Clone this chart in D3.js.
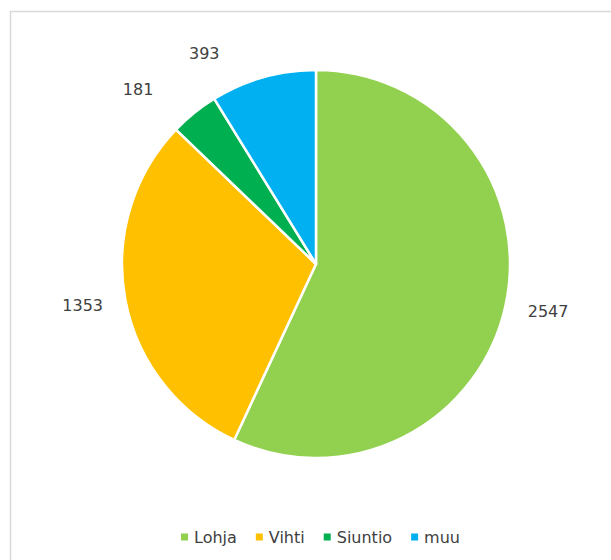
<!DOCTYPE html>
<html><head><meta charset="utf-8">
<script src="https://cdn.jsdelivr.net/npm/d3@7"></script>
<style>html,body{margin:0;padding:0;background:#fff;}svg{display:block;}</style>
</head><body>
<svg id="c" width="611" height="560"></svg>
<script>
const categories = ["Lohja", "Vihti", "Siuntio", "muu"];
const values = [2547, 1353, 181, 393];
const colors = ["#92D050", "#FFC000", "#00B050", "#00B0F0"];

const svg = d3.select("#c");
const font = "DejaVu Sans";
const textColor = "#404040";

svg.append("rect").attr("x", 10.5).attr("y", 11.5).attr("width", 700).attr("height", 700)
  .attr("fill", "#fff").attr("stroke", "#d9d9d9").attr("stroke-width", 1.5);

const cx = 316, cy = 264, r = 194;
const data = categories.map((c, i) => ({ name: c, value: values[i], color: colors[i] }));
const pie = d3.pie().value(d => d.value).sort(null);
const arcs = pie(data);
const arc = d3.arc().innerRadius(0).outerRadius(r);

const g = svg.append("g").attr("transform", `translate(${cx},${cy})`);
g.selectAll("path").data(arcs).enter().append("path")
  .attr("d", arc).attr("fill", d => d.data.color)
  .attr("stroke", "#fff").attr("stroke-width", 2.5).attr("stroke-linejoin", "round");

// label placement tweaks (degrees rotation, extra radius) to mimic the original layout
const labelAngleShift = [-0.8, 0.6, -6.7, -12.2];
const labelExtra = [43, 43, 55, 44];
g.selectAll("text.lbl").data(arcs).enter().append("text")
  .attr("class", "lbl")
  .each(function (d, i) {
    const a = (d.startAngle + d.endAngle) / 2 + labelAngleShift[i] * Math.PI / 180;
    const R = r + labelExtra[i];
    d3.select(this).attr("x", R * Math.sin(a)).attr("y", -R * Math.cos(a));
  })
  .attr("text-anchor", "middle").attr("dominant-baseline", "central")
  .attr("font-family", font).attr("font-size", 16).attr("fill", textColor)
  .text(d => d3.format("d")(d.data.value));

// legend
const lg = svg.append("g");
let x = 0;
data.forEach(d => {
  const it = lg.append("g");
  it.append("rect").attr("x", 0).attr("y", -3.5).attr("width", 7).attr("height", 7).attr("fill", d.color);
  const t = it.append("text").attr("x", 13).attr("y", 0).attr("dominant-baseline", "central")
    .attr("font-family", font).attr("font-size", 16).attr("fill", textColor).text(d.name);
  const w = 13 + t.node().getComputedTextLength();
  it.attr("transform", `translate(${x},0)`);
  x += w + 19;
});
const total = x - 19;
lg.attr("transform", `translate(${320.5 - total / 2},537)`);
</script>
</body></html>
